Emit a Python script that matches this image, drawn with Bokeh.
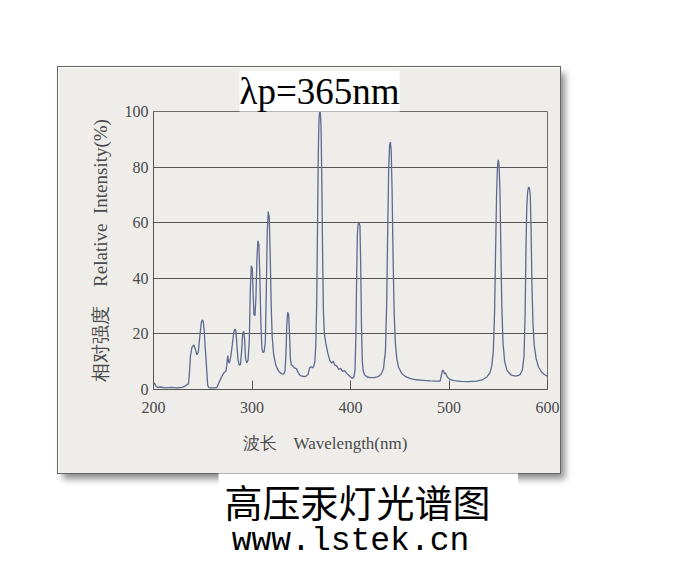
from bokeh.plotting import figure
from bokeh.models import Label, FixedTicker, Range1d, Title, Spacer
from bokeh.layouts import column, row
from bokeh.embed import file_html
from bokeh.resources import INLINE

# ---- data ----
wavelength_nm = [
    200, 201, 202.5, 204, 207, 212, 218, 224, 229, 232, 234, 235.5, 236.5, 237.5,
    239, 241, 242.5, 244, 245.5, 247, 248.5, 249.5, 250.5, 251.5, 252.5, 253.5,
    255, 256, 258, 262, 264.5, 266.5, 269, 271.5, 273.5, 274.5, 275.3, 276.2,
    277, 278.5, 280, 281.5, 282.7, 283.7, 284.7, 285.7, 287, 288.3, 289.5,
    290.5, 291.5, 292.5, 293.5, 294.7, 296, 297.3, 298.3, 299.3, 300.3, 301.2,
    302, 303, 304, 305, 306, 307, 308, 309, 310, 311, 312.3, 313.5, 314.5,
    315.5, 316.5, 317.5, 318.5, 319.5, 320.5, 322, 324, 326, 328, 330, 332,
    333.5, 334.5, 335.3, 336.2, 337.2, 338.2, 339, 340, 341.5, 343, 345, 347,
    349, 351, 353, 355, 357, 358.5, 360, 361.5, 362.8, 363.8, 364.8, 365.7,
    366.5, 367.3, 368, 368.7, 369.4, 370.1, 370.9, 371.7, 372.5, 373.5, 375,
    377, 379, 381, 382.5, 384, 386, 388, 390, 392, 394, 396, 398, 400, 402,
    403.5, 404.6, 405.5, 406.3, 407, 407.8, 408.7, 409.6, 410.4, 411.2, 412,
    413, 414.5, 417, 420, 424, 428, 431, 433.5, 435.5, 436.8, 437.8, 438.8,
    439.7, 440.5, 441.3, 442.2, 443.2, 444.3, 445.5, 447, 449, 452, 456, 461,
    467, 474, 481, 487, 491, 492.5, 493.5, 494.5, 495.5, 496.5, 497.5, 499,
    501, 505, 512, 520, 528, 534, 538.5, 541.5, 543.5, 545, 546.3, 547.3,
    548.3, 549.2, 550, 550.8, 551.7, 552.6, 553.6, 554.8, 556.5, 559, 563,
    568, 572, 574.5, 576.2, 577.3, 578.2, 579, 579.8, 580.7, 581.6, 582.5,
    583.3, 584.2, 585.2, 586.5, 588.5, 591, 594, 597, 600,
]
intensity_pct = [
    2.5, 2.2, 1.2, 0.8, 0.9, 0.6, 0.8, 0.6, 0.8, 1.2, 1.8, 2.0, 6, 12,
    15.2, 16, 14.5, 12.5, 13.5, 19, 24, 25, 24.5, 21, 15, 10,
    1.5, 0.7, 0.6, 0.6, 0.8, 2.5, 4.5, 6.0, 6.6, 9, 12.2, 10,
    9.5, 12, 16, 20.5, 21.8, 21, 16, 11, 8.8, 9, 14,
    20, 21, 18, 11, 9.6, 10.5, 18, 36, 44.5, 43.5, 34,
    27, 26.5, 33, 47, 53.5, 52, 40, 24, 15, 13.3, 13.6, 17, 35,
    57, 64, 62, 48, 30, 19, 12.5, 9, 7.2, 6.2, 5.7, 5.5,
    6.5, 13, 23, 27.8, 27, 19, 11, 8.8, 8.5, 7.8, 7.5, 6.0,
    5.0, 4.8, 4.6, 4.8, 5.5, 7.8, 8.2, 7.8, 8.5, 10, 16, 32,
    58, 85, 97, 100, 99.5, 94, 75, 48, 28, 20, 16.5,
    13, 10.5, 9.5, 10.2, 8.8, 8.5, 7.2, 7.6, 6.5, 6.8, 5.8, 5.2, 4.5, 4.0,
    4.6, 7, 20, 42, 56, 59.6, 59.8, 59, 44, 22, 10,
    6.5, 5.2, 4.5, 4.3, 4.3, 4.6, 5.5, 7.5, 14, 32, 58, 80,
    88, 89, 86, 72, 48, 28, 17, 11, 7.8, 5.8, 4.6, 3.9,
    3.5, 3.3, 3.1, 3.0, 3.0, 5.5, 7.0, 6.6, 5.6, 6.0, 5.0, 4.2,
    3.6, 3.2, 2.9, 2.8, 3.0, 3.5, 4.5, 6.0, 8.5, 14, 28, 50,
    70, 80, 82.6, 81, 72, 52, 30, 17, 10, 6.8, 5.2,
    4.8, 5.3, 7, 12, 28, 52, 66, 71, 72.8, 72.5, 70,
    58, 38, 24, 16, 11, 8, 6.3, 5.3, 4.8,
]
x_ticks = [200, 300, 400, 500, 600]
y_ticks = [0, 20, 40, 60, 80, 100]
peak_title = "λp=365nm"
x_label = "波长\u3000Wavelength(nm)"
y_label = "相对强度\u3000Relative\u2002Intensity(%)"
caption = "高压汞灯光谱图"
site = "www.lstek.cn"

CARD = "#eeedea"
SERIF = "Liberation Serif"

# ---------------- the scanned chart card ----------------
p = figure(width=502, height=406, output_backend="svg", toolbar_location=None,
           x_range=Range1d(200, 600), y_range=Range1d(0, 100),
           min_border_left=95, min_border_right=13,
           min_border_top=44, min_border_bottom=84)
p.title.visible = False
p.background_fill_color = CARD
p.border_fill_color = CARD
p.outline_line_color = "#6a6a6a"
p.styles = {"outline": "1px solid #666666",
            "box-shadow": "5px 6px 7px rgba(0,0,0,0.45)"}

p.line(wavelength_nm, intensity_pct, line_color="#5e6a8e", line_width=1.3)

p.xaxis.ticker = FixedTicker(ticks=x_ticks)
p.yaxis.ticker = FixedTicker(ticks=y_ticks)
for ax in (p.xaxis, p.yaxis):
    ax.axis_line_color = "#555555"
    ax.major_tick_line_color = "#555555"
    ax.minor_tick_line_color = None
    ax.major_tick_out = 0
    ax.major_label_text_font = SERIF
    ax.major_label_text_font_size = "16px"
    ax.major_label_text_color = "#4a4a4a"
    ax.axis_label_text_font = SERIF
    ax.axis_label_text_font_style = "normal"
    ax.axis_label_text_color = "#4a4a4a"
p.xaxis.major_tick_in = 9
p.yaxis.major_tick_in = 0
p.xaxis.major_label_standoff = 12
p.yaxis.major_label_standoff = 5
# trailing ideographic spaces shift the centred label left, as in the scan
p.xaxis.axis_label = x_label + "\u3000\u3000\u3000"
p.yaxis.axis_label = y_label
p.xaxis.axis_label_text_font_size = "17px"
p.yaxis.axis_label_text_font_size = "19px"
p.xaxis.axis_label_standoff = 18
p.yaxis.axis_label_standoff = 11

p.xgrid.visible = False
p.ygrid.grid_line_color = "#555555"
p.ygrid.grid_line_width = 1

p.add_layout(Title(text=peak_title, align="left", offset=86, standoff=0,
                   text_font=SERIF, text_font_size="37px", text_font_style="normal",
                   text_color="black", background_fill_color="white",
                   padding=0), "above")

# ---------------- caption below the card ----------------
cap = figure(width=300, height=90, output_backend="svg", toolbar_location=None,
             x_range=Range1d(0, 300), y_range=Range1d(0, 90),
             x_axis_type=None, y_axis_type=None,
             min_border=0, min_border_left=0, min_border_right=0,
             min_border_top=0, min_border_bottom=0)
cap.title.visible = False
cap.xgrid.visible = False
cap.ygrid.visible = False
cap.outline_line_color = None
cap.background_fill_color = "white"
cap.border_fill_color = "white"
cap.add_layout(Label(x=139, y=63, text=caption, text_align="center",
                     text_baseline="middle", text_font="Noto Sans CJK SC",
                     text_font_size="38px", text_color="black"))
cap.add_layout(Label(x=132, y=22, text=site, text_align="center",
                     text_baseline="middle", text_font="Liberation Mono",
                     text_font_size="33px", text_color="black"))

layout = column(Spacer(height=67),
                row(Spacer(width=58), p),
                row(Spacer(width=218), cap))

open("out.html", "w").write(file_html(layout, INLINE))
